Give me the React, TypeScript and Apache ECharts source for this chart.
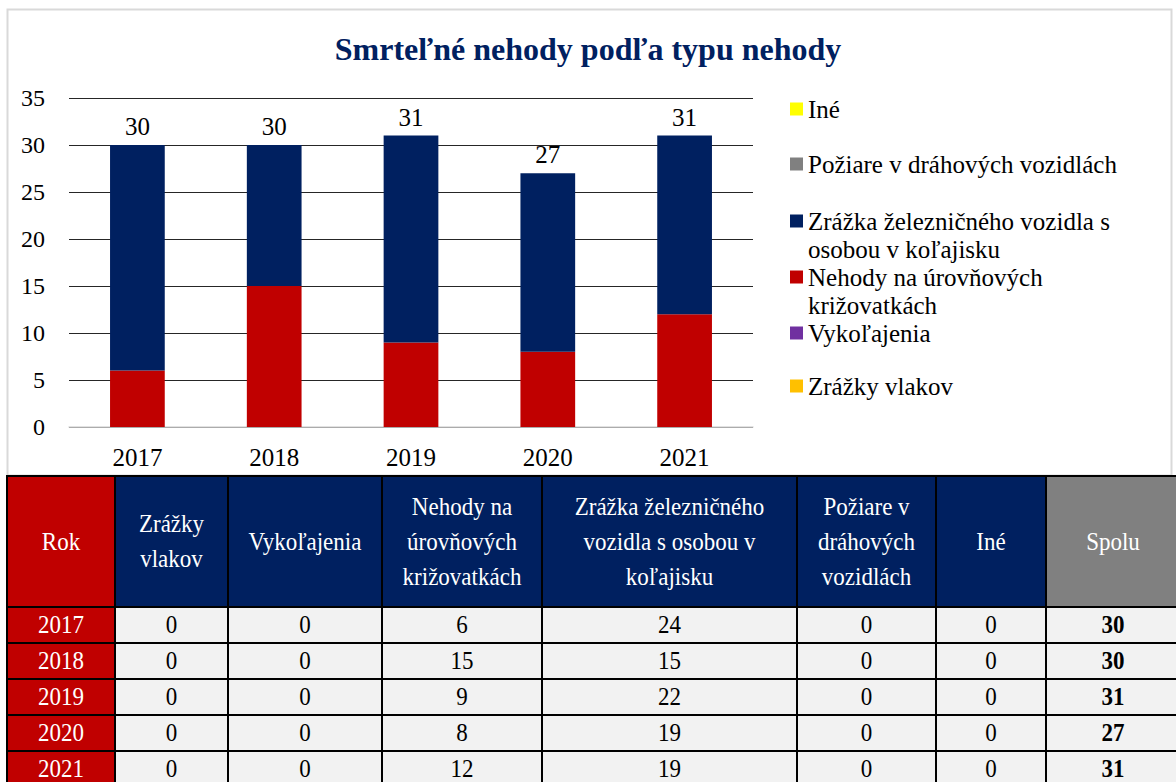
import React, { useEffect, useRef } from 'react';
import * as echarts from 'echarts';

// ---- data ----
const years = ['2017', '2018', '2019', '2020', '2021'];
const zrazkyVlakov = [0, 0, 0, 0, 0];
const vykolajenia = [0, 0, 0, 0, 0];
const nehodyKrizovatky = [6, 15, 9, 8, 12];
const zrazkaOsoba = [24, 15, 22, 19, 19];
const poziare = [0, 0, 0, 0, 0];
const ine = [0, 0, 0, 0, 0];
const spolu = [30, 30, 31, 27, 31];

const seriesNames = [
  'Zrážky vlakov',
  'Vykoľajenia',
  'Nehody na úrovňových križovatkách',
  'Zrážka železničného vozidla s osobou v koľajisku',
  'Požiare v dráhových vozidlách',
  'Iné',
];
const seriesColors = ['#FFC000', '#7030A0', '#C00000', '#002060', '#808080', '#FFFF00'];
const seriesValues = [zrazkyVlakov, vykolajenia, nehodyKrizovatky, zrazkaOsoba, poziare, ine];

const yMin = 0;
const yMax = 35;
const yStep = 5;

const chartTitle = 'Smrteľné nehody podľa typu nehody';

// legend labels wrapped as in the reference: first line next to the marker, second line below
const legendFirstLine: Record<string, string> = {
  'Zrážka železničného vozidla s osobou v koľajisku': 'Zrážka železničného vozidla s',
  'Nehody na úrovňových križovatkách': 'Nehody na úrovňových',
};
const legendSecondLine: Record<string, string> = {
  'Zrážka železničného vozidla s osobou v koľajisku': 'osobou v koľajisku',
  'Nehody na úrovňových križovatkách': 'križovatkách',
};

const tableHeaders = [
  'Rok',
  'Zrážky\nvlakov',
  'Vykoľajenia',
  'Nehody na\núrovňových\nkrižovatkách',
  'Zrážka železničného\nvozidla s osobou v\nkoľajisku',
  'Požiare v\ndráhových\nvozidlách',
  'Iné',
  'Spolu',
];

const EC_FONT = 'Liberation Serif';
const CSS_FONT = '"Liberation Serif", serif';
const LEGEND_FS = 25;
const LEGEND_LH = 28;

function Chart() {
  const ref = useRef<HTMLDivElement>(null);
  useEffect(() => {
    if (!ref.current) return;
    const chart = echarts.init(ref.current, null, { renderer: 'svg' });
    const legendLayout = [
      { name: seriesNames[5], cy: 109, cy2: 0 },
      { name: seriesNames[4], cy: 164, cy2: 0 },
      { name: seriesNames[3], cy: 221, cy2: 249 },
      { name: seriesNames[2], cy: 277, cy2: 305 },
      { name: seriesNames[1], cy: 333, cy2: 0 },
      { name: seriesNames[0], cy: 386, cy2: 0 },
    ];
    const secondLines = legendLayout
      .filter((l) => legendSecondLine[l.name])
      .map((l) => ({
        type: 'text',
        left: 808,
        top: l.cy2 - LEGEND_LH / 2,
        silent: true,
        style: {
          text: legendSecondLine[l.name],
          fontFamily: EC_FONT,
          fontSize: LEGEND_FS,
          lineHeight: LEGEND_LH,
          fill: '#000',
        },
      }));
    chart.setOption({
      animation: false,
      backgroundColor: '#ffffff',
      title: {
        text: chartTitle,
        left: 'center',
        top: 33,
        padding: 0,
        textStyle: { fontFamily: EC_FONT, fontSize: 32, fontWeight: 'bold', color: '#002060' },
      },
      graphic: [
        {
          type: 'rect',
          z: -1,
          shape: { x: 7.5, y: 9.5, width: 1164, height: 466 },
          style: { fill: 'none', stroke: '#D9D9D9', lineWidth: 2 },
          silent: true,
        },
        ...secondLines,
      ],
      legend: legendLayout.map((l) => ({
        data: [l.name],
        left: 790,
        top: l.cy - LEGEND_LH / 2,
        padding: 0,
        itemWidth: 13,
        itemHeight: 13,
        icon: 'rect',
        selectedMode: false,
        formatter: (n: string) => legendFirstLine[n] ?? n,
        textStyle: {
          fontFamily: EC_FONT,
          fontSize: LEGEND_FS,
          lineHeight: LEGEND_LH,
          color: '#000',
        },
      })),
      grid: { left: 69, right: 423, top: 98, bottom: 49, containLabel: false },
      xAxis: {
        type: 'category',
        data: years,
        axisLine: { lineStyle: { color: '#D9D9D9', width: 1.5 } },
        axisTick: { show: false },
        axisLabel: { fontFamily: EC_FONT, fontSize: 25, color: '#000', margin: 18 },
      },
      yAxis: {
        type: 'value',
        min: yMin,
        max: yMax,
        interval: yStep,
        axisLine: { show: false },
        axisTick: { show: false },
        axisLabel: { fontFamily: EC_FONT, fontSize: 24, color: '#000', margin: 24 },
        splitLine: { lineStyle: { color: '#262626', width: 1 } },
      },
      series: seriesNames.map((name, i) => ({
        name,
        type: 'bar',
        stack: 'total',
        barWidth: '40%',
        data: seriesValues[i],
        itemStyle: { color: seriesColors[i] },
        label:
          i === 3
            ? {
                show: true,
                position: 'top',
                distance: 6,
                fontFamily: EC_FONT,
                fontSize: 25,
                color: '#000',
                formatter: (p: any) => String(spolu[p.dataIndex]),
              }
            : { show: false },
      })),
    });
    return () => chart.dispose();
  }, []);
  return <div ref={ref} style={{ position: 'absolute', left: 0, top: 0, width: 1176, height: 476 }} />;
}

function Lines({ text }: { text: string }) {
  const parts = text.split('\n');
  return (
    <span style={{ display: 'inline-block', transform: 'scaleY(1.1)' }}>
      {parts.map((p, i) => (
        <React.Fragment key={i}>
          {p}
          {i < parts.length - 1 ? <br /> : null}
        </React.Fragment>
      ))}
    </span>
  );
}

function DataTable() {
  const colWidths = [108, 113, 154, 160, 255, 139, 110, 134];
  const border = '2px solid #000';
  const headerBg = (i: number) => (i === 0 ? '#C00000' : i === 7 ? '#808080' : '#002060');
  return (
    <div style={{ position: 'absolute', left: 6, top: 475, width: 1176, height: 320, overflow: 'hidden' }}>
      <table
        style={{
          borderCollapse: 'collapse',
          tableLayout: 'fixed',
          width: colWidths.reduce((a, b) => a + b, 0),
          fontFamily: CSS_FONT,
          fontSize: 23,
        }}
      >
        <colgroup>
          {colWidths.map((w, i) => (
            <col key={i} style={{ width: w }} />
          ))}
        </colgroup>
        <tbody>
          <tr style={{ height: 131 }}>
            {tableHeaders.map((h, i) => (
              <th
                key={i}
                style={{
                  border,
                  background: headerBg(i),
                  color: '#fff',
                  fontWeight: 'normal',
                  textAlign: 'center',
                  verticalAlign: 'middle',
                  lineHeight: '32px',
                  padding: 0,
                }}
              >
                <Lines text={h} />
              </th>
            ))}
          </tr>
          {years.map((y, r) => {
            const cells = [
              zrazkyVlakov[r],
              vykolajenia[r],
              nehodyKrizovatky[r],
              zrazkaOsoba[r],
              poziare[r],
              ine[r],
              spolu[r],
            ];
            return (
              <tr key={y} style={{ height: 36 }}>
                <td
                  style={{
                    border,
                    background: '#C00000',
                    color: '#fff',
                    textAlign: 'center',
                    padding: 0,
                    lineHeight: '30px',
                  }}
                >
                  <Lines text={y} />
                </td>
                {cells.map((v, c) => (
                  <td
                    key={c}
                    style={{
                      border,
                      background: '#F2F2F2',
                      color: '#000',
                      textAlign: 'center',
                      padding: 0,
                      lineHeight: '30px',
                      fontWeight: c === 6 ? 'bold' : 'normal',
                    }}
                  >
                    <Lines text={String(v)} />
                  </td>
                ))}
              </tr>
            );
          })}
        </tbody>
      </table>
    </div>
  );
}

export default function App() {
  return (
    <div
      style={{
        position: 'fixed',
        left: 0,
        top: 0,
        width: 1176,
        height: 782,
        overflow: 'hidden',
        background: '#fff',
      }}
    >
      <Chart />
      <DataTable />
    </div>
  );
}
